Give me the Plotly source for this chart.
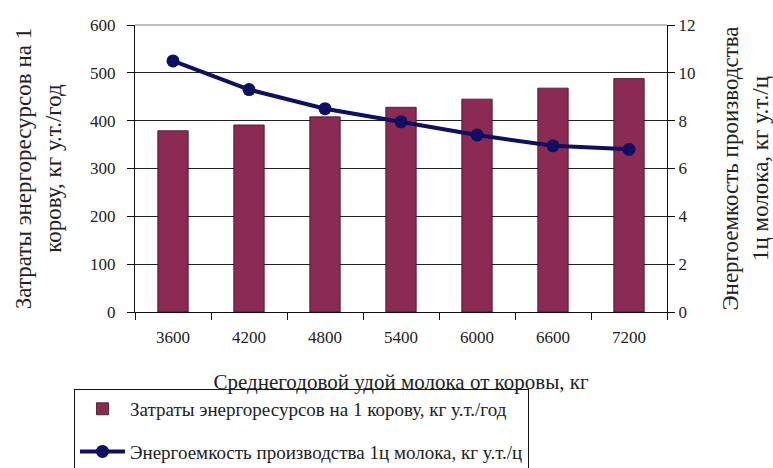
import plotly.graph_objects as go
from plotly.subplots import make_subplots

categories = ["3600", "4200", "4800", "5400", "6000", "6600", "7200"]
energy_per_cow = [379, 391, 408, 428, 445, 468, 488]
energy_intensity = [10.5, 9.3, 8.5, 7.95, 7.4, 6.95, 6.8]
left_ticks = [0, 100, 200, 300, 400, 500, 600]
right_ticks = [0, 2, 4, 6, 8, 10, 12]

bar_name = "Затраты энергоресурсов на 1 корову, кг у.т./год"
line_name = "Энергоемкость производства 1ц молока, кг у.т./ц"

FONT = "serif"

fig = make_subplots(specs=[[{"secondary_y": True}]])
fig.add_trace(go.Bar(x=categories, y=energy_per_cow, name=bar_name,
                     marker=dict(color="#8B2A53", line=dict(color="#3a1020", width=0.8)),
                     legendgroup="a"), secondary_y=False)
fig.add_trace(go.Scatter(x=categories, y=energy_intensity, name=line_name,
                         mode="lines+markers",
                         line=dict(color="#0E0E62", width=4),
                         marker=dict(color="#0E0E62", size=13),
                         legendgroup="b"), secondary_y=True)

fig.update_layout(
    width=773, height=468,
    margin=dict(l=135, r=106, t=25, b=156, autoexpand=False),
    paper_bgcolor="white", plot_bgcolor="white",
    font=dict(family=FONT, size=17, color="#222"),
    bargap=0.6,
    legend=dict(x=-0.1147, y=-0.268, xanchor="left", yanchor="top",
                bordercolor="#111", borderwidth=1, bgcolor="white",
                font=dict(family=FONT, size=19, color="#222"),
                traceorder="grouped", tracegroupgap=15, itemwidth=45),
    shapes=[dict(type="line", xref="paper", yref="paper", x0=0, x1=1, y0=1, y1=1,
                 line=dict(color="#aaaaaa", width=1.5), layer="above")],
)
fig.update_xaxes(type="category", domain=[0, 1], showline=True, linecolor="#111", linewidth=1,
                 ticks="outside", tickson="boundaries", ticklen=7, tickcolor="#111",
                 ticklabelstandoff=10, showgrid=False, automargin=False,
                 title=dict(text="Среднегодовой удой молока от коровы, кг",
                            font=dict(family=FONT, size=21, color="#222"), standoff=27))
fig.update_yaxes(range=[0, 600], tickvals=left_ticks, showline=True, linecolor="#111",
                 linewidth=1, ticks="outside", ticklen=7, tickcolor="#111",
                 ticklabelstandoff=8,
                 gridcolor="#222", gridwidth=1, zeroline=False, automargin=False,
                 title=dict(text="Затраты энергоресурсов на 1<br>корову, кг у.т./год",
                            font=dict(family=FONT, size=23, color="#222"), standoff=22),
                 secondary_y=False)
fig.update_yaxes(range=[0, 12], tickvals=right_ticks, showline=True, linecolor="#111",
                 linewidth=1, ticks="outside", ticklen=7, tickcolor="#111",
                 showgrid=False, zeroline=False, automargin=False,
                 title=dict(text="Энергоемкость производства<br>1ц молока, кг у.т./ц",
                            font=dict(family=FONT, size=23, color="#222"), standoff=28),
                 secondary_y=True)

fig.write_html("out.html")
